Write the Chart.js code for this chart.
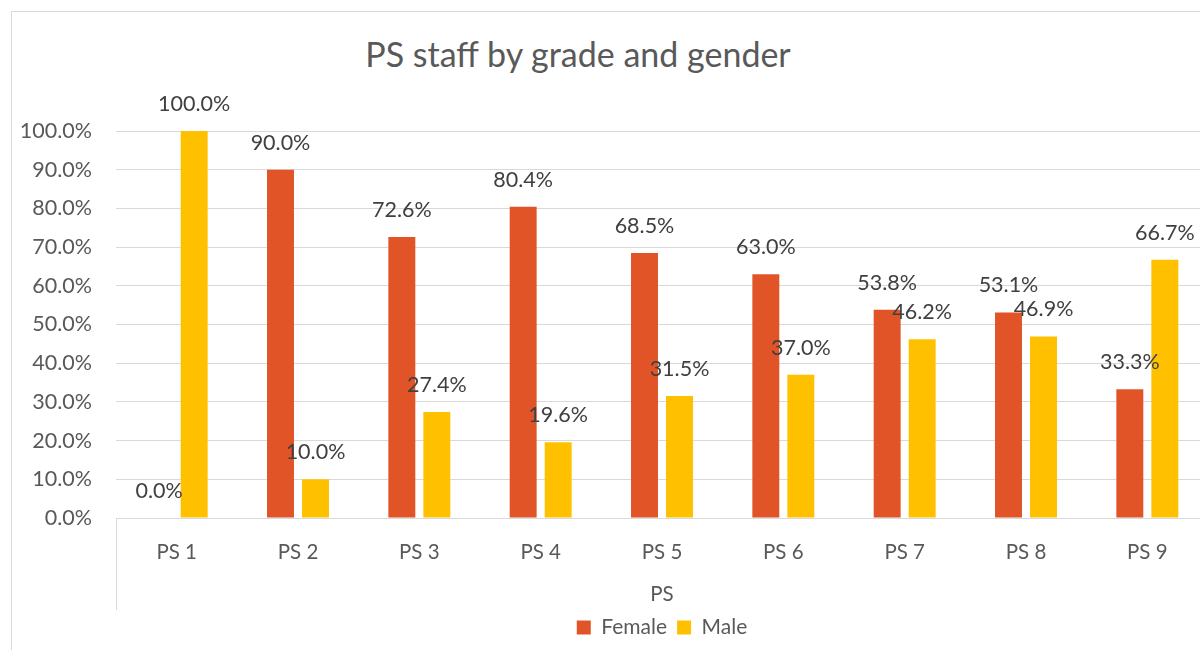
<!DOCTYPE html>
<html>
<head>
<meta charset="utf-8">
<script src="https://cdn.jsdelivr.net/npm/chart.js@4.4.0/dist/chart.umd.min.js"></script>
<style>
  html, body { margin: 0; padding: 0; background: #fff; overflow: hidden; }
  body { width: 1200px; height: 650px; position: relative; }
  #frame {
    position: absolute; left: 11px; top: 11px; width: 1300px; height: 700px;
    border: 1px solid #d9d9d9; box-sizing: border-box;
  }
  #title {
    position: absolute; left: 278px; width: 600px; top: 32px;
    text-align: center; font-family: Lato, 'Open Sans', sans-serif;
    font-size: 34px; color: #595959; line-height: 44px;
  }
  #wrap { position: absolute; left: 0; top: 0; width: 1210px; height: 650px; }
</style>
</head>
<body>
<div id="frame"></div>
<div id="title">PS staff by grade and gender</div>
<div id="wrap"><canvas id="chart"></canvas></div>
<script>
// categories and values (share of staff, 0..1)
var grades = ['PS 1', 'PS 2', 'PS 3', 'PS 4', 'PS 5', 'PS 6', 'PS 7', 'PS 8', 'PS 9'];
var femaleShare = [0.000, 0.900, 0.726, 0.804, 0.685, 0.630, 0.538, 0.531, 0.333];
var maleShare = [1.000, 0.100, 0.274, 0.196, 0.315, 0.370, 0.462, 0.469, 0.667];
var yTicks = [0, 0.1, 0.2, 0.3, 0.4, 0.5, 0.6, 0.7, 0.8, 0.9, 1.0];

var FONT = 'Lato';
var pct = function (v) { return (v * 100).toFixed(1) + '%'; };

// labels above each bar, plus the left border of the category axis
var barLabels = {
    id: 'barLabels',
    afterDatasetsDraw: function (chart) {
        var ctx = chart.ctx;
        ctx.save();
        ctx.font = '21.5px ' + FONT;
        ctx.fillStyle = '#404040';
        ctx.textAlign = 'center';
        ctx.textBaseline = 'middle';
        chart.data.datasets.forEach(function (ds, i) {
            chart.getDatasetMeta(i).data.forEach(function (bar, j) {
                ctx.fillText(pct(ds.data[j]), bar.x, bar.y - 27);
            });
        });
        var area = chart.chartArea;
        ctx.strokeStyle = '#d9d9d9';
        ctx.lineWidth = 1;
        ctx.beginPath();
        ctx.moveTo(Math.round(area.left) + 0.5, area.bottom);
        ctx.lineTo(Math.round(area.left) + 0.5, area.bottom + 92);
        ctx.stroke();
        ctx.restore();
    }
};

new Chart(document.getElementById('chart'), {
    type: 'bar',
    data: {
        labels: grades,
        datasets: [
            { label: 'Female', data: femaleShare, backgroundColor: '#E05428',
              categoryPercentage: 0.577, barPercentage: 0.77 },
            { label: 'Male', data: maleShare, backgroundColor: '#FFC000',
              categoryPercentage: 0.577, barPercentage: 0.77 }
        ]
    },
    options: {
        responsive: true,
        maintainAspectRatio: false,
        animation: false,
        layout: { padding: { top: 131, right: 2, bottom: 2, left: 0 } },
        plugins: {
            legend: {
                position: 'bottom',
                fullSize: false,
                labels: {
                    font: { family: FONT, size: 21 },
                    color: '#595959',
                    boxWidth: 14,
                    boxHeight: 14,
                    padding: 10
                }
            },
            tooltip: { enabled: false }
        },
        scales: {
            x: {
                grid: { display: false },
                border: { color: '#d9d9d9' },
                ticks: { font: { family: FONT, size: 20.5 }, color: '#595959', padding: 14 },
                title: {
                    display: true, text: 'PS',
                    font: { family: FONT, size: 20.5 }, color: '#595959',
                    padding: { top: 0, bottom: 0 }
                },
                afterFit: function (scale) { scale.height = 89; }
            },
            y: {
                min: 0,
                max: 1,
                border: { display: false },
                grid: { color: '#d9d9d9', drawTicks: false },
                afterBuildTicks: function (scale) {
                    scale.ticks = yTicks.map(function (v) { return { value: v }; });
                },
                ticks: {
                    font: { family: FONT, size: 21.5 }, color: '#595959', padding: 24,
                    callback: function (v) { return pct(v); }
                },
                afterFit: function (scale) { scale.width = 116; }
            }
        }
    },
    plugins: [barLabels]
});
</script>
</body>
</html>
